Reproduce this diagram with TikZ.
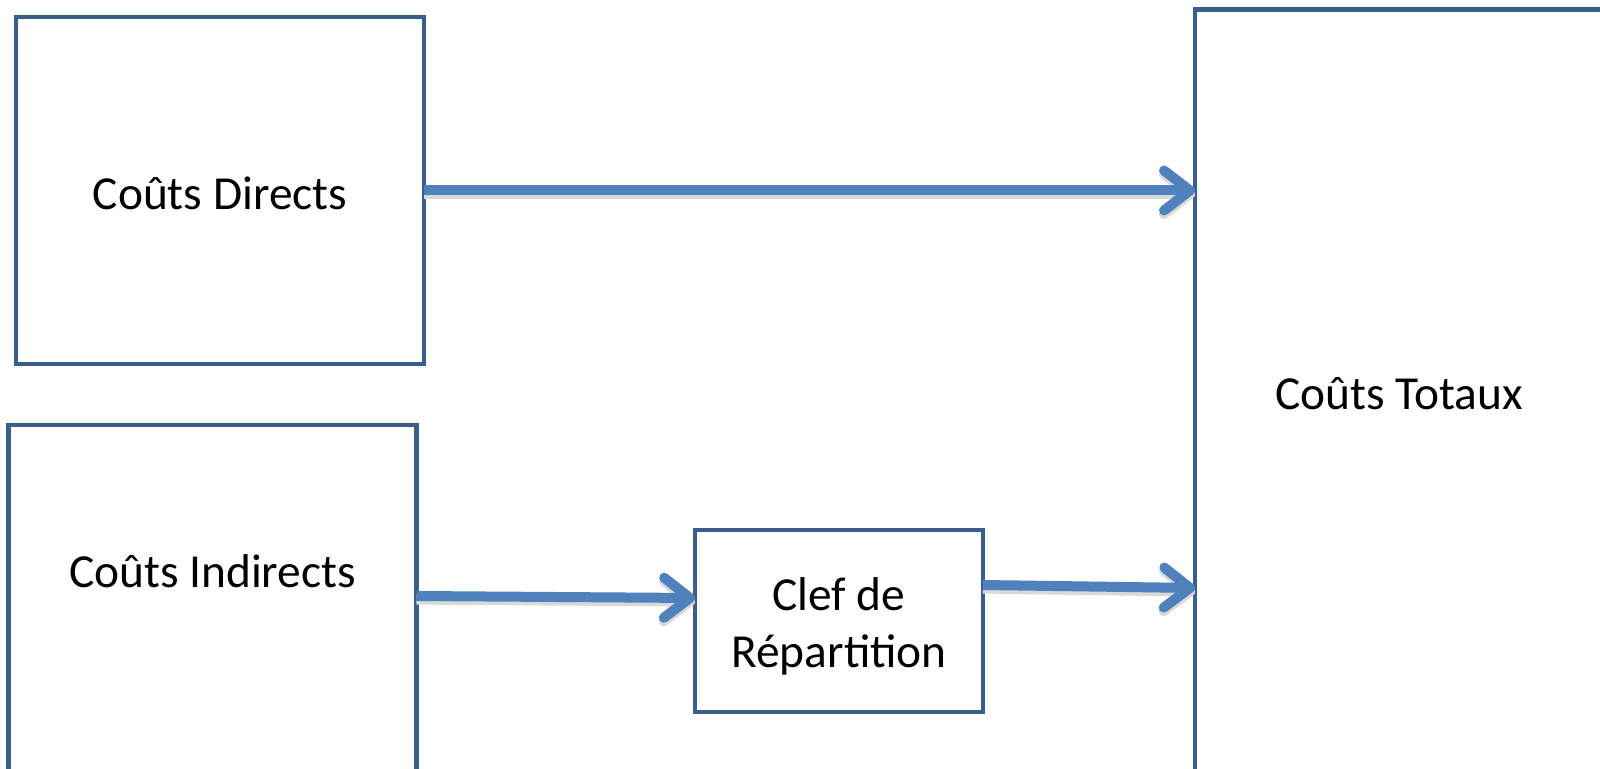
\documentclass[tikz,border=0pt]{standalone}
\usepackage{fontspec}
\setmainfont{Carlito}
\usetikzlibrary{arrows.meta}
\definecolor{boxline}{HTML}{3A5F8D}
\definecolor{arrowblue}{HTML}{4F81BD}
\tikzset{
  tipstyle/.style={-{Straight Barb[length=13pt, width=20pt, line width=5pt, round]}},
  box/.style={draw=boxline, line width=2.2pt, fill=white, rectangle, inner sep=0pt, outer sep=0pt},
  lbl/.style={font=\fontsize{23.7}{28.4}\selectfont, text=black, inner sep=0pt},
  arr/.style={draw=arrowblue, line width=5pt, tipstyle,
    preaction={draw=black!15, line width=5pt, tipstyle, transform canvas={yshift=-1.8pt}}}
}
\begin{document}
\begin{tikzpicture}[x=0.5pt,y=-0.5pt]
\clip (0,0) rectangle (1600,769);
\fill[white] (0,0) rectangle (1600,769);
% boxes
\node[box, minimum width=204pt, minimum height=173.5pt] (dir) at (220,190.5) {};
\node[lbl] (dirt) at ([yshift=-1.5pt]dir.center) {Coûts Directs};
\node[box, minimum width=204pt, minimum height=200pt] (ind) at (212.5,625) {};
\node[lbl, anchor=base] (indt) at (212.5,588) {Coûts Indirects};
\node[box, minimum width=144pt, minimum height=91pt] (clef) at (839,621) {};
\node[lbl, align=center] (cleft) at ([yshift=-2.8pt]clef.center) {Clef de\\Répartition};
\node[box, minimum width=205pt, minimum height=385.5pt] (tot) at (1400,395) {};
\node[lbl, anchor=base] (tott) at (1399,410) {Coûts Totaux};
% connectors
\draw[arr] (dir.east) -- (tot.west |- dir.east);
\draw[arr] ([yshift=14.5pt]ind.east) -- ([yshift=11.5pt]clef.west);
\draw[arr] ([yshift=18pt]clef.east) -- ([yshift=-96.5pt]tot.west);
\end{tikzpicture}
\end{document}
